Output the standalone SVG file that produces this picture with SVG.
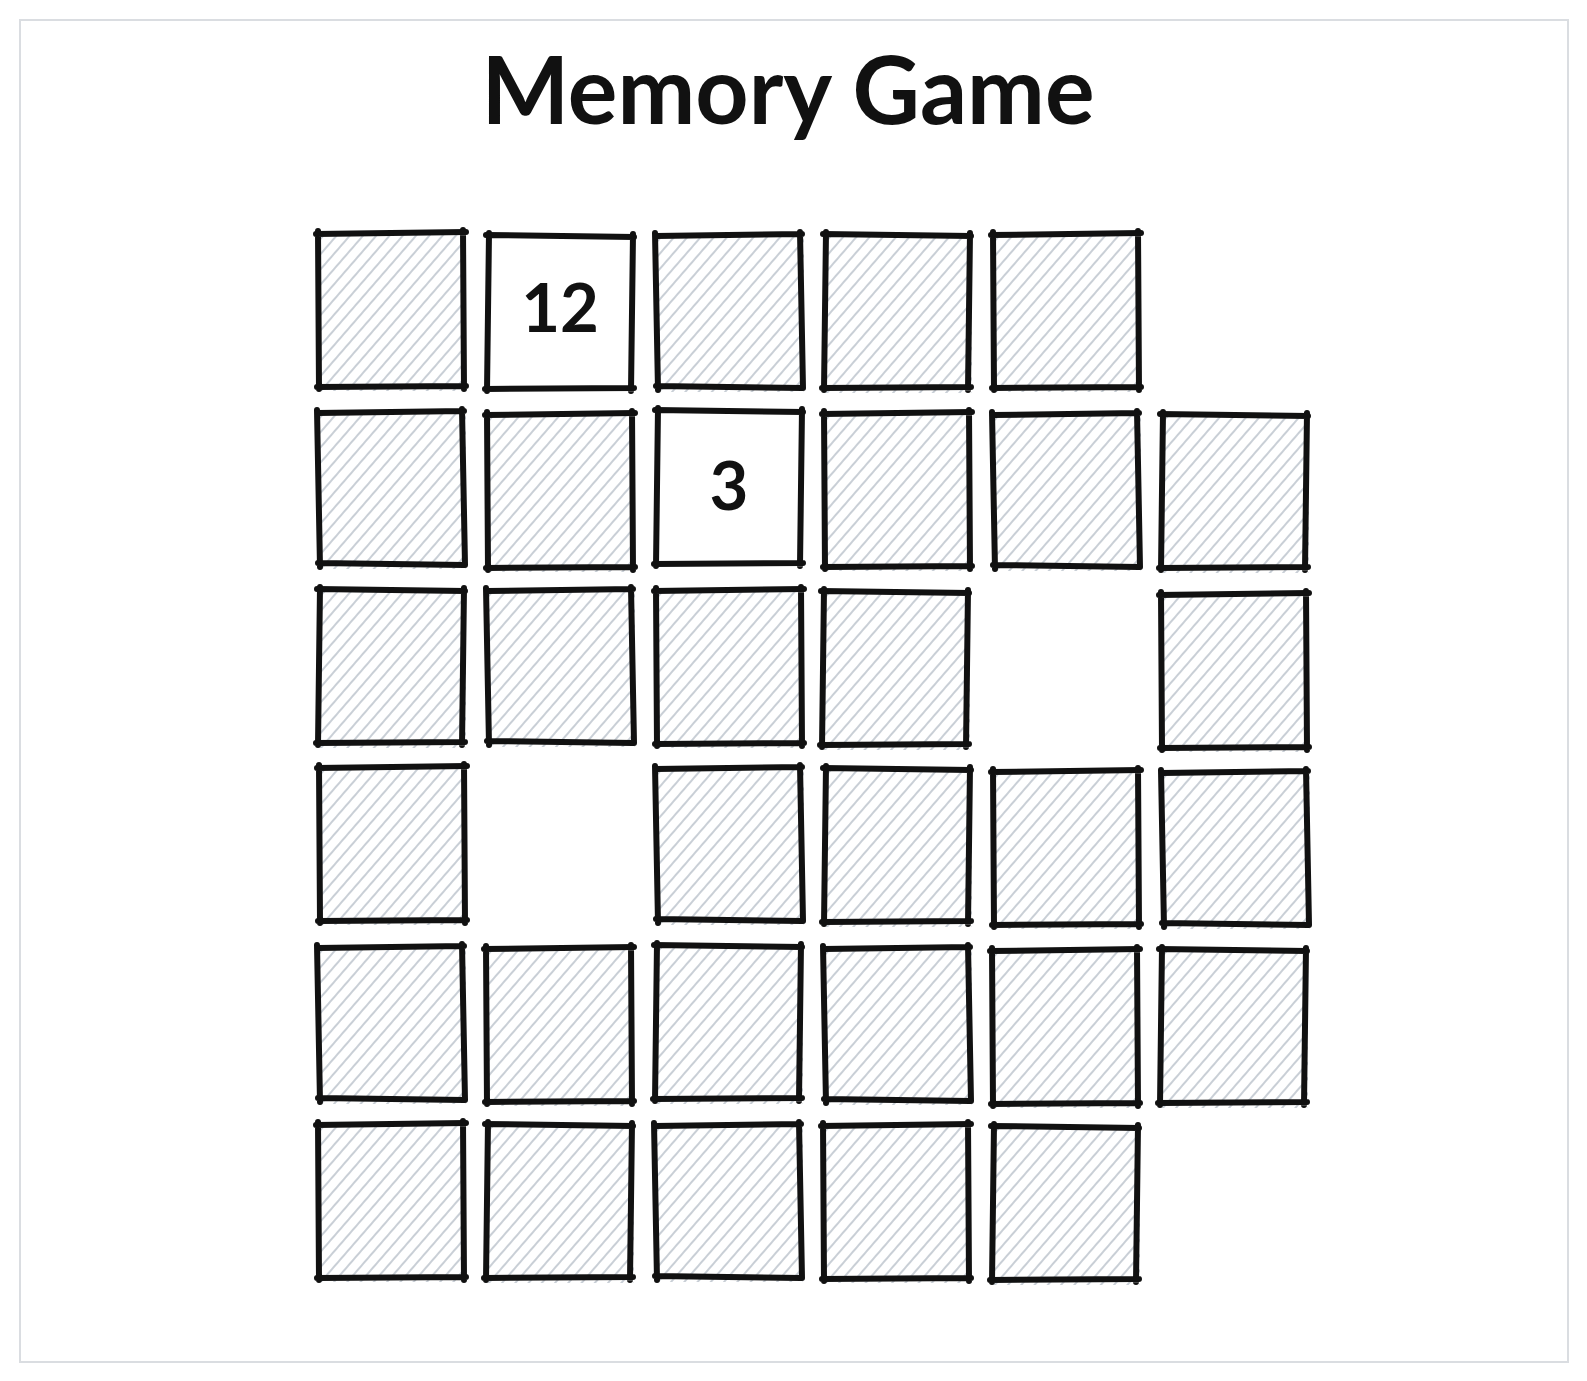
<svg xmlns="http://www.w3.org/2000/svg" xmlns:xlink="http://www.w3.org/1999/xlink" width="1587" height="1381" viewBox="0 0 1587 1381">
<style>
  .frame { fill: #ffffff; stroke: #dadde1; stroke-width: 2; }
  .hatch { fill: url(#hatch); stroke: none; }
  .face { fill: #ffffff; stroke: none; }
  .edge { fill: none; stroke: #111111; stroke-width: 6; stroke-linecap: round; stroke-linejoin: round; }
  .title { font-family: "Lato", "Liberation Sans", sans-serif; font-size: 94px; font-weight: bold; fill: #111111; }
  .num { font-family: "Lato", "Liberation Sans", sans-serif; font-size: 67px; font-weight: bold; fill: #111111; text-anchor: middle; }
</style>
<defs>
  <pattern id="hatch" width="10" height="10" patternUnits="userSpaceOnUse" patternTransform="rotate(41)">
    <line x1="5" y1="-1" x2="5" y2="11" stroke="#c9cfd6" stroke-width="2"/>
  </pattern>
  <path id="edgeA" class="edge" d="M -3 1 L 147 -1 M 144 -3 L 145 156 M 147 153 L -2 154 M 0 156 L -1 -2"/>
  <path id="edgeB" class="edge" d="M -2 -1 L 146 1 M 145 -2 L 143 155 M 146 152 L -3 153 M -1 155 L 1 -3"/>
  <path id="edgeC" class="edge" d="M -1 2 L 145 0 M 143 -2 L 146 154 M 145 154 L -1 152 M 1 156 L -2 -1"/>
  <rect id="hfill" class="hatch" x="0" y="0" width="147" height="158"/>
  <rect id="wfill" class="face" x="0" y="0" width="144" height="153"/>
</defs>
<rect class="frame" x="20" y="20" width="1548" height="1342"/>
<g id="title"><text class="title" x="788" y="124" text-anchor="middle" textLength="613" lengthAdjust="spacingAndGlyphs">Memory Game</text></g>
<g id="connectors"/>
<g id="cards">
  <g id="card-r0c0" transform="translate(319,233)"><use href="#hfill"/><use href="#edgeA"/></g>
  <g id="card-r0c1" transform="translate(488,236)"><use href="#wfill"/><use href="#edgeB"/><text class="num" x="72" y="96">12</text></g>
  <g id="card-r0c2" transform="translate(657,234)"><use href="#hfill"/><use href="#edgeC"/></g>
  <g id="card-r0c3" transform="translate(825,235)"><use href="#hfill"/><use href="#edgeB"/></g>
  <g id="card-r0c4" transform="translate(994,234)"><use href="#hfill"/><use href="#edgeA"/></g>

  <g id="card-r1c0" transform="translate(319,411)"><use href="#hfill"/><use href="#edgeC"/></g>
  <g id="card-r1c1" transform="translate(488,414)"><use href="#hfill"/><use href="#edgeA"/></g>
  <g id="card-r1c2" transform="translate(657,411)"><use href="#wfill"/><use href="#edgeB"/><text class="num" x="72" y="99">3</text></g>
  <g id="card-r1c3" transform="translate(825,413)"><use href="#hfill"/><use href="#edgeA"/></g>
  <g id="card-r1c4" transform="translate(994,413)"><use href="#hfill"/><use href="#edgeC"/></g>
  <g id="card-r1c5" transform="translate(1162,415)"><use href="#hfill"/><use href="#edgeB"/></g>

  <g id="card-r2c0" transform="translate(319,590)"><use href="#hfill"/><use href="#edgeB"/></g>
  <g id="card-r2c1" transform="translate(488,589)"><use href="#hfill"/><use href="#edgeC"/></g>
  <g id="card-r2c2" transform="translate(657,590)"><use href="#hfill"/><use href="#edgeA"/></g>
  <g id="card-r2c3" transform="translate(823,592)"><use href="#hfill"/><use href="#edgeB"/></g>
  <g id="card-r2c5" transform="translate(1162,594)"><use href="#hfill"/><use href="#edgeA"/></g>

  <g id="card-r3c0" transform="translate(320,767)"><use href="#hfill"/><use href="#edgeA"/></g>
  <g id="card-r3c2" transform="translate(657,767)"><use href="#hfill"/><use href="#edgeC"/></g>
  <g id="card-r3c3" transform="translate(825,769)"><use href="#hfill"/><use href="#edgeB"/></g>
  <g id="card-r3c4" transform="translate(994,771)"><use href="#hfill"/><use href="#edgeA"/></g>
  <g id="card-r3c5" transform="translate(1163,771)"><use href="#hfill"/><use href="#edgeC"/></g>

  <g id="card-r4c0" transform="translate(319,946)"><use href="#hfill"/><use href="#edgeC"/></g>
  <g id="card-r4c1" transform="translate(487,948)"><use href="#hfill"/><use href="#edgeA"/></g>
  <g id="card-r4c2" transform="translate(656,946)"><use href="#hfill"/><use href="#edgeB"/></g>
  <g id="card-r4c3" transform="translate(825,947)"><use href="#hfill"/><use href="#edgeC"/></g>
  <g id="card-r4c4" transform="translate(993,950)"><use href="#hfill"/><use href="#edgeA"/></g>
  <g id="card-r4c5" transform="translate(1161,950)"><use href="#hfill"/><use href="#edgeB"/></g>

  <g id="card-r5c0" transform="translate(319,1124)"><use href="#hfill"/><use href="#edgeA"/></g>
  <g id="card-r5c1" transform="translate(487,1125)"><use href="#hfill"/><use href="#edgeB"/></g>
  <g id="card-r5c2" transform="translate(656,1124)"><use href="#hfill"/><use href="#edgeC"/></g>
  <g id="card-r5c3" transform="translate(824,1125)"><use href="#hfill"/><use href="#edgeA"/></g>
  <g id="card-r5c4" transform="translate(993,1127)"><use href="#hfill"/><use href="#edgeB"/></g>
</g>
</svg>
